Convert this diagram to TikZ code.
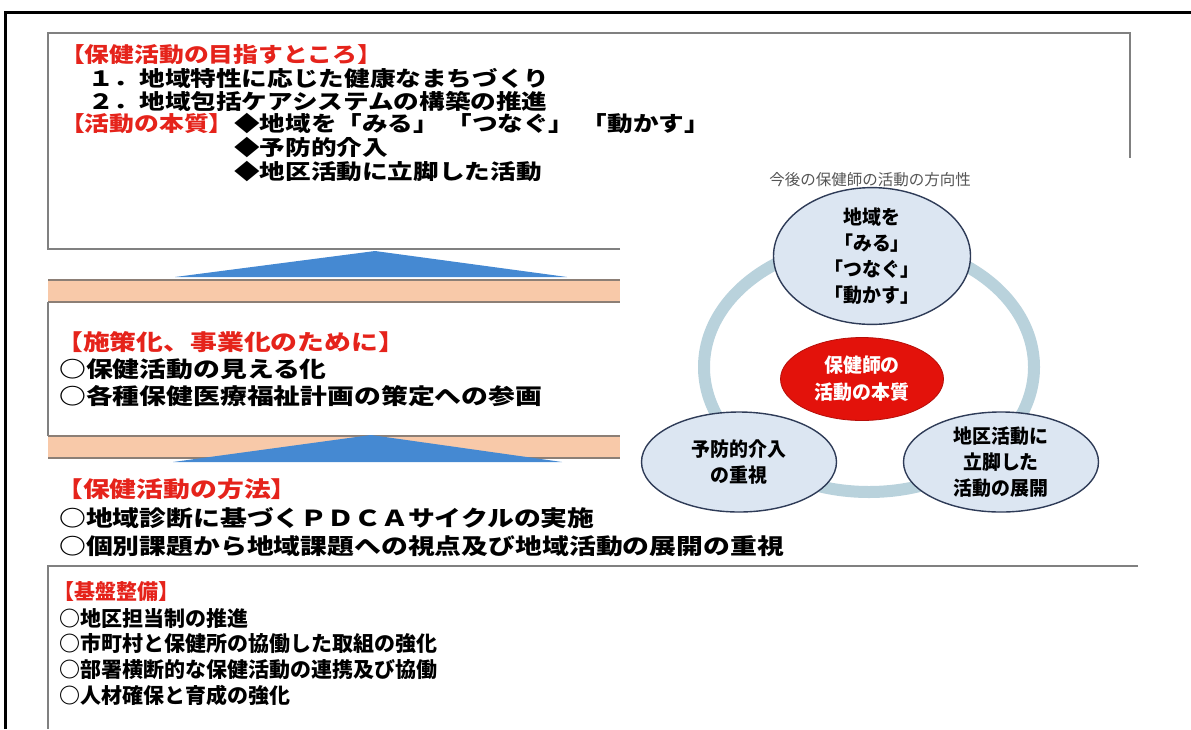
\documentclass[tikz,border=0pt]{standalone}
\usepackage{fontspec}
\newfontfamily\jp{Noto Sans CJK JP}
\newfontfamily\jpH{Noto Sans CJK JP}[FakeStretch=1.18]
\newfontfamily\jpW{Noto Sans CJK JP}[FakeStretch=1.22]
\newfontfamily\jpE{Noto Sans CJK JP}[FakeStretch=0.97]
\usetikzlibrary{shapes.geometric}
\definecolor{hred}{HTML}{E5231B}
\definecolor{peach}{HTML}{F8C9A9}
\definecolor{bandline}{HTML}{8C7F76}
\definecolor{tri}{HTML}{4589D2}
\definecolor{boxgray}{HTML}{808080}
\definecolor{ringc}{HTML}{B9D2DC}
\definecolor{ellfill}{HTML}{DCE6F2}
\definecolor{elldraw}{HTML}{2E3B57}
\definecolor{titlegray}{HTML}{555555}
\definecolor{corered}{HTML}{E3120B}
\begin{document}
\begin{tikzpicture}[x=1pt,y=-1pt,
  ttxt/.style={anchor=west,inner sep=0pt,text=black,font=\jpW\bfseries\fontsize{21}{21}\selectfont},
  thead/.style={anchor=west,inner sep=0pt,text=hred,font=\jpH\bfseries\fontsize{21}{21}\selectfont},
  mtxt/.style={anchor=west,inner sep=0pt,text=black,font=\jpW\bfseries\fontsize{22}{22}\selectfont},
  mhead/.style={mtxt,text=hred},
  btxt/.style={anchor=west,inner sep=0pt,text=black,font=\jp\bfseries\fontsize{21}{21}\selectfont},
  bhead/.style={btxt,text=hred},
  boxline/.style={draw=boxgray,line width=1.6pt},
  band/.style={fill=peach,draw=none},
  bandedge/.style={draw=bandline,line width=1.6pt},
  arrowtri/.style={fill=tri,draw=none},
  bubble/.style={ellipse,fill=ellfill,draw=elldraw,line width=1.4pt,align=center,inner sep=0pt,
    font=\jpE\bfseries\fontsize{19.5}{26}\selectfont},
  core/.style={ellipse,fill=corered,draw=corered!80!black,line width=0.8pt,align=center,inner sep=0pt,text=white,
    font=\jpE\bfseries\fontsize{19.5}{27}\selectfont}
]
\useasboundingbox (0,0) rectangle (1191,729);
% outer frame
\draw[line width=3pt,black] (5,729) -- (5,12) -- (1191,12);
% top box (right part hidden by the circle figure)
\draw[boxline] (620,249) -- (48,249) -- (48,33) -- (1130,33) -- (1130,158);
% first arrow + band
\fill[arrowtri] (175,277) -- (375,251) -- (567,277) -- cycle;
\fill[band] (48,280) rectangle (620,302);
\draw[bandedge] (48,280) -- (620,280);
\draw[bandedge] (48,302) -- (620,302);
% middle box
\draw[boxline] (48,302) -- (48,436);
% second band + arrow
\fill[band] (48,436) rectangle (620,458);
\draw[bandedge] (48,436) -- (620,436);
\draw[bandedge] (48,458) -- (620,458);
\fill[arrowtri] (173,462) -- (371,435) -- (562,462) -- cycle;
% bottom box
\draw[boxline] (1138,566) -- (48,566) -- (48,729);

% texts top box
\node[thead] (t1) at (60,55) {【保健活動の目指すところ】};
\node[ttxt]  (t2) at (88,78) {１．地域特性に応じた健康なまちづくり};
\node[ttxt]  (t3) at (88,101) {２．地域包括ケアシステムの構築の推進};
\node[thead] (t4) at (60,124) {【活動の本質】};
\node[ttxt]  (t5) at (234,124) {◆地域を「みる」\hspace{0.35em}「つなぐ」\hspace{0.35em}「動かす」};
\node[ttxt]  (t6) at (234,148) {◆予防的介入};
\node[ttxt]  (t7) at (234,172) {◆地区活動に立脚した活動};

% middle texts
\node[mhead] (m1) at (56,342) {【施策化、事業化のために】};
\node[mtxt]  (m2) at (59,369) {○保健活動の見える化};
\node[mtxt]  (m3) at (59,396) {○各種保健医療福祉計画の策定への参画};
\node[mhead] (m4) at (56,489) {【保健活動の方法】};
\node[mtxt]  (m5) at (59,518) {○地域診断に基づくＰＤＣＡサイクルの実施};
\node[mtxt]  (m6) at (59,546) {○個別課題から地域課題への視点及び地域活動の展開の重視};

% bottom texts
\node[bhead] (b1) at (53,592) {【基盤整備】};
\node[btxt]  (b2) at (59,618) {○地区担当制の推進};
\node[btxt]  (b3) at (59,644) {○市町村と保健所の協働した取組の強化};
\node[btxt]  (b4) at (59,670) {○部署横断的な保健活動の連携及び協働};
\node[btxt]  (b5) at (59,695) {○人材確保と育成の強化};

% circle figure
\node[text=titlegray,inner sep=0pt,font=\jp\fontsize{15.5}{16}\selectfont] (ct) at (870,180) {今後の保健師の活動の方向性};
\draw[ringc,line width=12pt] (869,367) ellipse [x radius=165pt, y radius=125pt];
\node[bubble,minimum width=197pt,minimum height=118pt] (e1) at (872,256) {地域を\\「みる」\\「つなぐ」\\「動かす」};
\node[core,minimum width=163pt,minimum height=83pt] (e0) at (862,379) {保健師の\\活動の本質};
\node[bubble,minimum width=195pt,minimum height=100pt] (e2) at (739,462) {予防的介入\\の重視};
\node[bubble,minimum width=195pt,minimum height=99pt] (e3) at (1001,462) {地区活動に\\立脚した\\活動の展開};
\end{tikzpicture}
\end{document}
